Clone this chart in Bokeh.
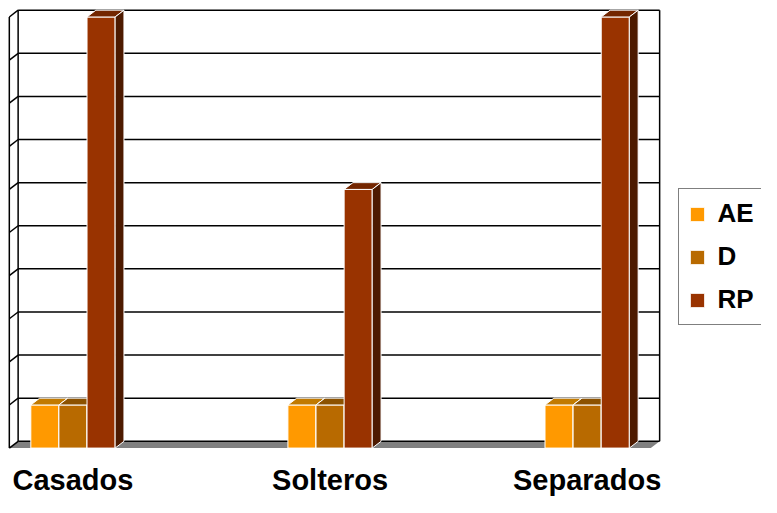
from bokeh.plotting import figure
from bokeh.models import ColumnDataSource, Range1d, Legend, LegendItem
from bokeh.core.properties import value
from bokeh.embed import file_html
from bokeh.resources import INLINE

# ---------------- data ----------------
categories = ["Casados", "Solteros", "Separados"]
series_names = ["AE", "D", "RP"]
ae_values = [1, 1, 1]
d_values = [1, 1, 1]
rp_values = [10, 6, 10]
grid_levels = [0, 1, 2, 3, 4, 5, 6, 7, 8, 9, 10]

series_values = [ae_values, d_values, rp_values]

# ---------------- styles ----------------
front_colors = ["#FF9900", "#B86A00", "#993300"]
top_colors = ["#C27A00", "#8C5200", "#732600"]
side_colors = ["#7F4C00", "#5C3500", "#4D1A00"]
FONT = "Liberation Sans"

# ---------------- layout (pixels -> data units) ----------------
W, H = 761, 497
SX, SY = 761 / 777, 497 / 513
PX_PER_CAT = 262.5 * SX
PX_PER_UNIT = 44.5 * SY
X0_PX = 74.0 * SX      # figure x of first category centre
Y0_PX = 462.0 * SY     # figure y (from top) of value 0 on the front plane
DX = 9.0 * SX / PX_PER_CAT
DY = 7.0 * SY / PX_PER_UNIT
BAR_W = 28.7 * SX / PX_PER_CAT
WALL_PAD = 65.0 * SX / PX_PER_CAT
LABEL_MID_PX = 479.0

n = len(categories)
y_top = grid_levels[-1]
front_left = -WALL_PAD
front_right = (n - 1) + WALL_PAD
back_left = front_left + DX
back_right = front_right + DX

p = figure(width=W, height=H, output_backend="svg", toolbar_location=None, tools="",
           x_range=Range1d(-X0_PX / PX_PER_CAT, (W - X0_PX) / PX_PER_CAT),
           y_range=Range1d(-(H - Y0_PX) / PX_PER_UNIT, Y0_PX / PX_PER_UNIT),
           x_axis_type=None, y_axis_type=None, min_border=0,
           background_fill_color="white", border_fill_color="white")
p.outline_line_color = None
p.grid.visible = False

# floor
p.patch(x=[front_left, front_right, back_right, back_left],
        y=[0, 0, DY, DY], fill_color="#808080", line_color=None)

# back-wall gridlines and side-wall diagonals
gx, gy = [], []
for v in grid_levels:
    gx.append([back_left, back_right]); gy.append([v + DY, v + DY])
    gx.append([front_left, back_left]); gy.append([v, v + DY])
gx.append([front_left, front_left]); gy.append([0, y_top])
gx.append([back_left, back_left]); gy.append([DY, y_top + DY])
gx.append([back_right, back_right]); gy.append([DY, y_top + DY])
p.multi_line(xs=gx, ys=gy, line_color="black", line_width=1.5)

# bars
legend_items = []
for si, (name, vals) in enumerate(zip(series_names, series_values)):
    off = (si - 1) * BAR_W
    lefts = [i + off - BAR_W / 2 for i in range(n)]
    rights = [i + off + BAR_W / 2 for i in range(n)]
    src = ColumnDataSource(dict(left=lefts, right=rights, top=vals, bottom=[0] * n))
    r = p.quad(left="left", right="right", top="top", bottom="bottom", source=src,
               fill_color=front_colors[si], line_color="white", line_width=1)
    top_xs = [[l, rr, rr + DX, l + DX] for l, rr in zip(lefts, rights)]
    top_ys = [[v, v, v + DY, v + DY] for v in vals]
    p.patches(xs=top_xs, ys=top_ys, fill_color=top_colors[si], line_color="white", line_width=1)
    side_xs = [[rr, rr + DX, rr + DX, rr] for rr in rights]
    side_ys = [[0, DY, v + DY, v] for v in vals]
    p.patches(xs=side_xs, ys=side_ys, fill_color=side_colors[si], line_color="white", line_width=1)
    legend_items.append(LegendItem(label=name, renderers=[r]))

# category labels
label_y = (Y0_PX - LABEL_MID_PX) / PX_PER_UNIT
p.text(x=list(range(n)), y=[label_y] * n, text=categories,
       text_font=value(FONT), text_font_style="bold", text_font_size="29px",
       text_align="center", text_baseline="middle", text_color="black")

legend = Legend(items=legend_items, location=(692.7 * SX, H - 335.7 * SY), orientation="vertical",
                border_line_color="black", border_line_width=1.5,
                background_fill_color="white", background_fill_alpha=1.0,
                label_text_font=FONT, label_text_font_style="bold",
                label_text_font_size="26px", label_text_color="black",
                glyph_width=18, glyph_height=18, label_standoff=11,
                padding=9, spacing=12, margin=0, label_height=25)
p.add_layout(legend, "center")

open("out.html", "w").write(file_html(p, INLINE))
